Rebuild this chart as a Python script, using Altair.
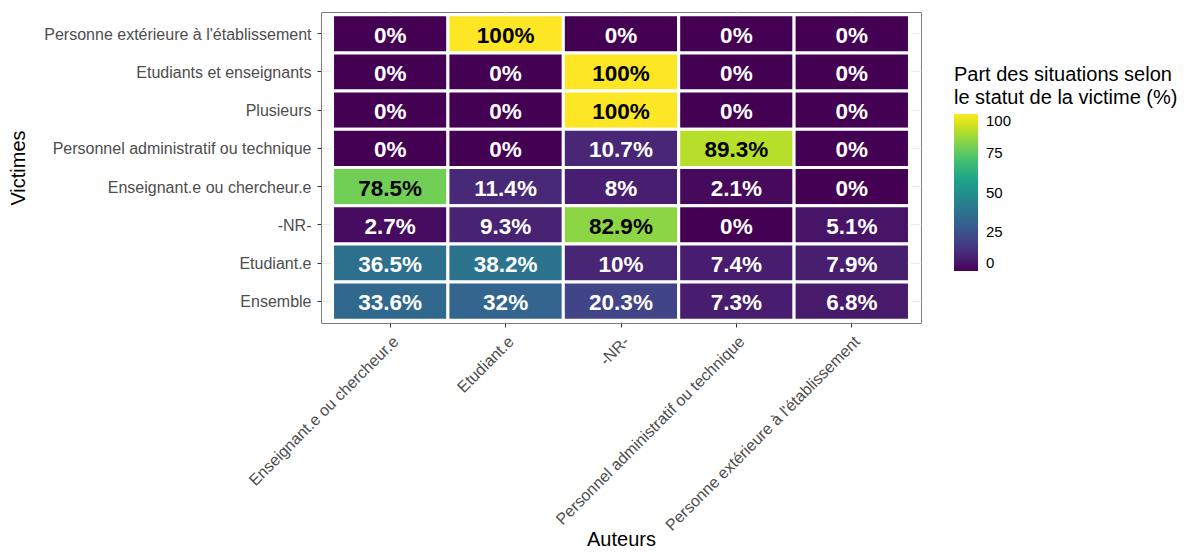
import altair as alt
import pandas as pd

auteurs = ["Enseignant.e ou chercheur.e", "Etudiant.e", "-NR-",
           "Personnel administratif ou technique", "Personne extérieure à l'établissement"]
victimes = ["Personne extérieure à l'établissement", "Etudiants et enseignants", "Plusieurs",
            "Personnel administratif ou technique", "Enseignant.e ou chercheur.e", "-NR-",
            "Etudiant.e", "Ensemble"]
valeurs = [
    [0, 100, 0, 0, 0],
    [0, 0, 100, 0, 0],
    [0, 0, 100, 0, 0],
    [0, 0, 10.7, 89.3, 0],
    [78.5, 11.4, 8, 2.1, 0],
    [2.7, 9.3, 82.9, 0, 5.1],
    [36.5, 38.2, 10, 7.4, 7.9],
    [33.6, 32, 20.3, 7.3, 6.8],
]

rows = []
for v, vals in zip(victimes, valeurs):
    for a, val in zip(auteurs, vals):
        lab = f"{val:g}%"
        rows.append({"Victimes": v, "Auteurs": a, "value": val, "label": lab})
df = pd.DataFrame(rows)

FONT = "Liberation Sans"

x = alt.X("Auteurs:N", sort=auteurs,
          scale=alt.Scale(paddingInner=0, paddingOuter=0.1),
          axis=alt.Axis(title="Auteurs", labelAngle=-45, labelAlign="right", labelBaseline="top",
                        labelFontSize=16, labelColor="#4D4D4D", labelFont=FONT, labelLimit=400,
                        tickColor="#333333", tickSize=4, labelPadding=6,
                        titleFontSize=20, titleFont=FONT, titleFontWeight="normal", titleColor="black",
                        titleY=216, titleBaseline="middle",
                        grid=True, gridColor="#EBEBEB", zindex=0, domain=False))
y = alt.Y("Victimes:N", sort=victimes,
          scale=alt.Scale(paddingInner=0, paddingOuter=0.07),
          axis=alt.Axis(title="Victimes", labelFontSize=16, labelColor="#4D4D4D", labelFont=FONT,
                        labelLimit=400, tickColor="#333333", tickSize=4, labelPadding=6, labelOffset=1,
                        titleFontSize=20, titleFont=FONT, titleFontWeight="normal", titleColor="black",
                        titleX=-303, titleAngle=-90, titleBaseline="middle",
                        grid=True, gridColor="#EBEBEB", zindex=0, domain=False))

base = alt.Chart(df)
tiles = base.mark_rect(stroke="white", strokeWidth=3).encode(
    x=x, y=y,
    color=alt.Color("value:Q",
                    scale=alt.Scale(scheme="viridis", domain=[0, 100]),
                    legend=alt.Legend(
                        title=["Part des situations selon", "\u00a0le statut de la victime (%)"],
                        orient="none", legendX=633, legendY=53,
                        gradientLength=157, gradientThickness=24,
                        values=[0, 25, 50, 75, 100],
                        titleFontSize=20, titleFont=FONT, titleFontWeight="normal",
                        titleColor="black", titleLineHeight=23, titlePadding=6, titleLimit=400,
                        labelFontSize=15, labelFont=FONT, labelColor="black",
                        labelOffset=8, gradientStrokeWidth=0, direction="vertical")),
)
texts = base.mark_text(fontSize=22.5, fontWeight="bold", font=FONT, dy=2).encode(
    x=alt.X("Auteurs:N", sort=auteurs), y=alt.Y("Victimes:N", sort=victimes),
    text="label:N",
    color=alt.condition(alt.datum.value > 75, alt.value("black"), alt.value("white")),
)

chart = (tiles + texts).properties(
    width=600, height=311,
    autosize=alt.AutoSizeParams(type="none"),
    padding={"left": 313, "top": 4, "right": 259, "bottom": 225},
).configure(background="white").configure_view(stroke="#7F7F7F", strokeWidth=1)

chart.save("out.html", embed_options={"renderer": "svg", "actions": False})
